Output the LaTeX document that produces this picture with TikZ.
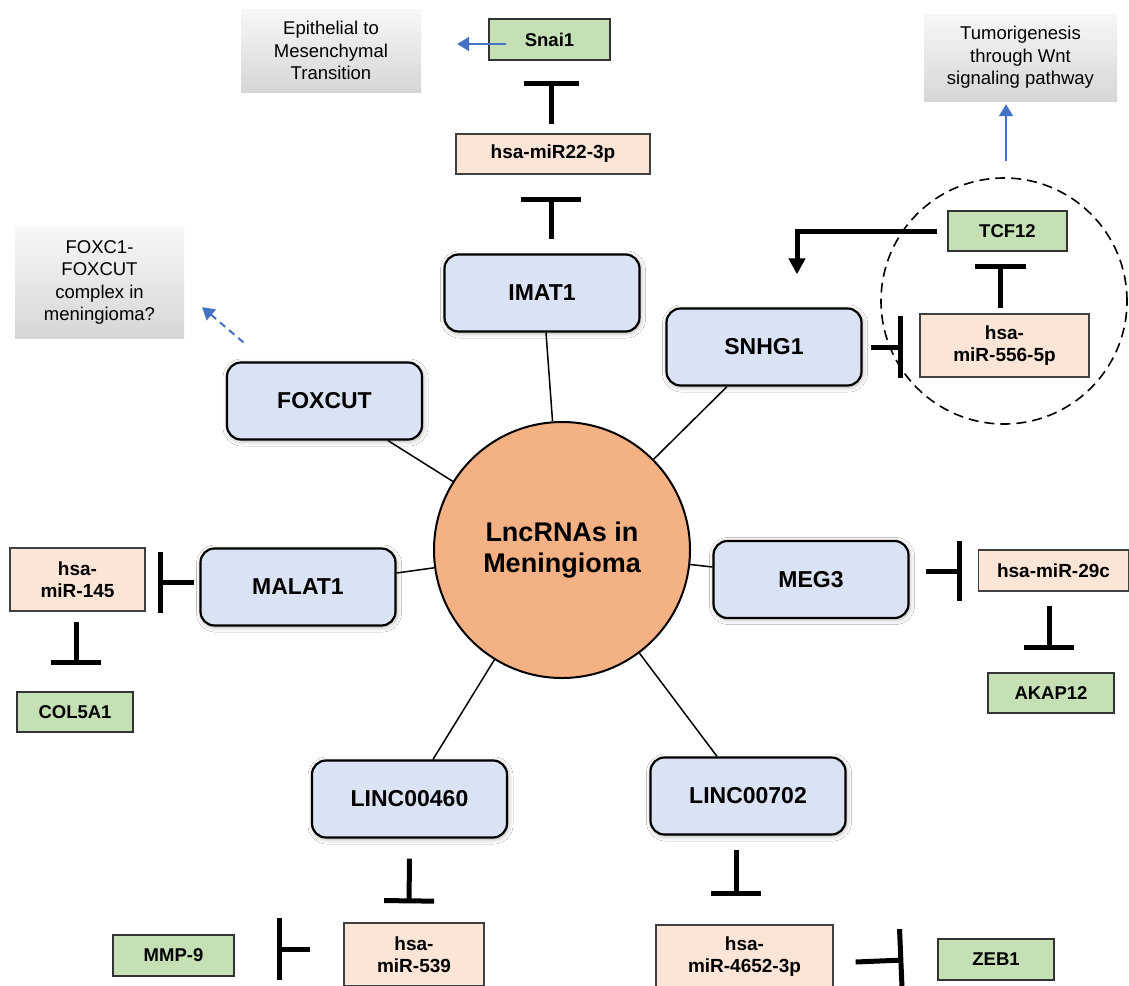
\documentclass[tikz,border=0pt]{standalone}
\usepackage{fontspec}
\setmainfont{Liberation Sans}
\usetikzlibrary{arrows.meta,calc,shadows.blur}
\definecolor{bluebox}{HTML}{DAE3F3}
\definecolor{pinkbox}{HTML}{FBE5D6}
\definecolor{greenbox}{HTML}{C5E0B4}
\definecolor{orangec}{HTML}{F4B183}
\definecolor{arrowblue}{HTML}{4472C4}
\begin{document}
\begin{tikzpicture}[x=1pt,y=-1pt,
  lnc/.style={draw=black, line width=2.2pt, rounded corners=14pt, fill=bluebox,
    minimum width=195pt, minimum height=77pt, inner sep=0pt,
    font=\fontsize{23}{27}\selectfont\bfseries,
    blur shadow={shadow xshift=1pt, shadow yshift=-1.5pt, shadow blur radius=5pt,
      shadow blur steps=14, shadow blur extra rounding=2pt, shadow opacity=30}},
  mir/.style={draw=black!75, line width=1.3pt, fill=pinkbox, inner sep=0pt, align=center,
    font=\fontsize{19}{22.5}\selectfont\bfseries},
  gene/.style={draw=black!80, line width=1.3pt, fill=greenbox, inner sep=0pt,
    font=\fontsize{18.5}{22}\selectfont\bfseries},
  outcome/.style={top color=black!3, bottom color=black!16, draw=none, inner sep=0pt, align=center,
    font=\fontsize{18.5}{22.5}\selectfont},
  spoke/.style={draw=black, line width=1.5pt},
  inh/.style={line width=5pt, -{Bar[width=#1]}},
  inh/.default=50pt,
  act/.style={line width=5pt, -{Triangle[length=16pt,width=16pt]}},
  bluearr/.style={draw=arrowblue, line width=2pt, -{Triangle[length=12pt,width=14pt]}},
]
\useasboundingbox (0,0) rectangle (1129,985);
\clip (0,0) rectangle (1129,985);
\fill[white] (0,0) rectangle (1129,985);

% central circle
\node[circle, draw=black, line width=2pt, fill=orangec, minimum size=256pt, inner sep=0pt, align=center,
  font=\fontsize{27}{31}\selectfont\bfseries] (circ) at (562,550) {LncRNAs in\\Meningioma};

% dashed group circle
\node[circle, draw=black, line width=1.6pt, dash pattern=on 10pt off 6pt, minimum size=246pt, inner sep=0pt] (grp) at (1004,301) {};

% lncRNA boxes
\node[lnc] (IMAT1) at (542,293) {IMAT1};
\node[lnc] (SNHG1) at (764,347) {SNHG1};
\node[lnc] (FOXCUT) at (324.5,401) {FOXCUT};
\node[lnc] (MALAT1) at (298,587) {MALAT1};
\node[lnc] (MEG3) at (811,579.5) {MEG3};
\node[lnc] (L460) at (409.5,799) {LINC00460};
\node[lnc] (L702) at (748,796) {LINC00702};

% miRNA boxes
\node[mir, minimum width=194pt, minimum height=40pt] (mir22) at (553,154) {hsa-miR22-3p};
\node[mir, minimum width=169pt, minimum height=63pt] (mir556) at (1004.5,345.5) {hsa-\\miR-556-5p};
\node[mir, minimum width=135pt, minimum height=63pt] (mir145) at (77.5,579.5) {hsa-\\miR-145};
\node[mir, minimum width=150pt, minimum height=41pt] (mir29c) at (1053.5,570.5) {hsa-miR-29c};
\node[mir, minimum width=140pt, minimum height=63pt] (mir539) at (414,954.5) {hsa-\\miR-539};
\node[mir, minimum width=177pt, minimum height=63pt] (mir4652) at (744.5,956.5) {hsa-\\miR-4652-3p};

% gene boxes
\node[gene, minimum width=121pt, minimum height=41pt] (snai1) at (549.5,39.5) {Snai1};
\node[gene, minimum width=119pt, minimum height=40pt] (TCF12) at (1007.5,231) {TCF12};
\node[gene, minimum width=116pt, minimum height=40pt] (COL5A1) at (75,712) {COL5A1};
\node[gene, minimum width=126pt, minimum height=40pt] (AKAP12) at (1051,693) {AKAP12};
\node[gene, minimum width=121pt, minimum height=41pt] (MMP9) at (173.5,955.5) {MMP-9};
\node[gene, minimum width=116pt, minimum height=41pt] (ZEB1) at (996,959.5) {ZEB1};

% outcome boxes
\node[outcome, minimum width=180pt, minimum height=83pt] (emt) at (331,50.5) {Epithelial to\\Mesenchymal\\Transition};
\node[outcome, minimum width=193pt, minimum height=87pt] (tum) at (1020.5,57.5) {Tumorigenesis\\through Wnt\\signaling pathway};
\node[outcome, minimum width=169pt, minimum height=111pt] (foxc) at (99.5,282.5) {FOXC1-\\FOXCUT\\complex in\\meningioma?};

% spokes from the circle
\draw[spoke] (circ) -- ($(IMAT1.south)+(4,0)$);
\draw[spoke] (circ) -- ($(SNHG1.south)+(-37,0)$);
\draw[spoke] (circ) -- ($(FOXCUT.south)+(63.5,0)$);
\draw[spoke] (circ) -- ($(MALAT1.east)+(0,-14)$);
\draw[spoke] (circ) -- ($(MEG3.west)+(0,-12.5)$);
\draw[spoke] (circ) -- ($(L460.north)+(23.5,0)$);
\draw[spoke] (circ) -- ($(L702.north)+(-31,0)$);

% inhibitions
\draw[inh=60pt] ($(IMAT1.north)+(9,-14.5)$) -- ($(mir22.south)+(-2,22)$);
\draw[inh=55pt] ($(mir22.north)+(-2,-9)$) -- ($(snai1.south)+(1.5,20)$);
\draw[inh=62pt] ($(SNHG1.east)+(8,0)$) -- ($(mir556.west)+(-16,1.5)$);
\draw[inh=51pt] ($(mir556.north)+(-4.5,-5)$) -- ($(TCF12.south)+(-7.5,12)$);
\draw[inh=61pt] ($(MALAT1.west)+(-5,-5)$) -- ($(mir145.east)+(12,2.5)$);
\draw[inh=50pt] ($(mir145.south)+(-1.5,10)$) -- ($(COL5A1.north)+(1,-26)$);
\draw[inh=60pt] ($(MEG3.east)+(16,-8.5)$) -- ($(mir29c.west)+(-16,0.5)$);
\draw[inh=50pt] ($(mir29c.south)+(-4.5,14)$) -- ($(AKAP12.north)+(-2,-22)$);
\draw[inh=50pt] ($(L460.south)+(0,20)$) -- ($(mir539.north)+(-5,-19)$);
\draw[inh=62pt] ($(mir539.west)+(-33,-5.5)$) -- ($(MMP9.east)+(42,-6.5)$);
\draw[inh=50pt] ($(L702.south)+(-12,14)$) -- ($(mir4652.north)+(-8.5,-28)$);
\draw[inh=62pt] ($(mir4652.east)+(22,5.5)$) -- ($(ZEB1.west)+(-34,0.5)$);

% activation TCF12 -> SNHG1
\draw[act] ($(TCF12.west)+(-10,0)$) -| ($(SNHG1.north)+(33,-33)$);

% blue outcome arrows
\draw[bluearr] ($(snai1.west)+(18,4.5)$) -- ($(emt.east)+(36,-6.5)$);
\draw[bluearr] ($(grp.north)+(2,-16)$) -- ($(tum.south)+(-14.5,3)$);
\draw[bluearr, dash pattern=on 7pt off 5pt] ($(FOXCUT.north)+(-81,-19)$) -- ($(foxc.south east)+(18,-31)$);
\end{tikzpicture}
\end{document}
